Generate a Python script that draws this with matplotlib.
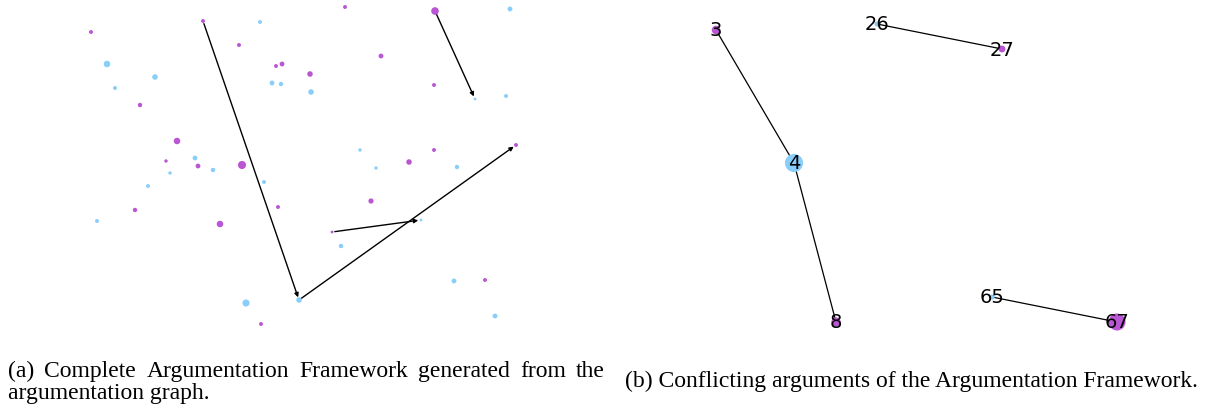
import numpy as np
import matplotlib
matplotlib.use('Agg')
import matplotlib.pyplot as plt

W, H = 1211, 410
BLUE = '#87cefa'
PURPLE = '#ba55d3'

# panel (a): complete framework, node positions (x, y) in picture units
a_x = [91, 203, 260, 239, 107, 155, 276, 282, 272, 281, 115, 140, 177, 195, 166, 198, 170, 213, 242,
       345, 435, 510, 381, 310, 311, 434, 475, 506, 516, 360, 434, 409, 376, 457,
       148, 264, 278, 135, 97, 220, 246, 299, 261,
       371, 332, 421, 341, 454, 485, 495]
a_y = [33, 22, 23, 46, 65, 78, 67, 65, 84, 85, 89, 106, 142, 159, 162, 167, 174, 171, 166,
       8, 12, 10, 57, 75, 93, 86, 100, 97, 146, 151, 151, 163, 169, 168,
       187, 183, 208, 211, 222, 225, 304, 301, 325,
       202, 233, 221, 247, 282, 281, 317]
a_kind = ['p', 'p', 'b', 'p', 'b', 'b', 'p', 'p', 'b', 'b', 'b', 'p', 'p', 'b', 'p', 'p', 'b', 'b', 'p',
          'p', 'p', 'b', 'p', 'p', 'b', 'p', 'b', 'b', 'p', 'b', 'p', 'p', 'b', 'b',
          'b', 'b', 'p', 'p', 'b', 'p', 'b', 'b', 'p',
          'p', 'p', 'b', 'b', 'b', 'p', 'b']
a_size = [8, 8, 8, 8, 22, 16, 8, 12, 12, 10, 8, 10, 22, 12, 6, 12, 6, 10, 34,
          8, 30, 12, 12, 16, 16, 8, 4, 8, 8, 6, 8, 16, 6, 10,
          8, 8, 8, 10, 8, 22, 26, 16, 8,
          14, 4, 4, 10, 12, 8, 12]
# directed attacks (from index, to index)
a_edges = [(1, 41), (20, 26), (41, 28), (44, 45)]

# panel (b): conflicting arguments
b_label = ['3', '4', '8', '26', '27', '65', '67']
b_x = [716, 794, 836, 877, 1002, 992, 1117]
b_y = [31, 164, 323, 25, 50, 298, 323]
b_kind = ['p', 'b', 'p', 'b', 'p', 'b', 'p']
b_size = [38, 170, 45, 14, 24, 14, 150]
b_edges = [('3', '4'), ('4', '8'), ('26', '27'), ('65', '67')]

cap_a1 = '(a) Complete Argumentation Framework generated from the'
cap_a2 = 'argumentation graph.'
cap_b = '(b) Conflicting arguments of the Argumentation Framework.'

fig = plt.figure(figsize=(W / 100, H / 100), dpi=100)
top = 340
ax1 = fig.add_axes([0, (H - top) / H, 605 / W, top / H])
ax2 = fig.add_axes([605 / W, (H - top) / H, (W - 605) / W, top / H])
ax1.set_xlim(0, 605)
ax2.set_xlim(605, W)
for ax in (ax1, ax2):
    ax.set_ylim(top, 0)
    ax.axis('off')

col = lambda k: BLUE if k == 'b' else PURPLE

for s, t in a_edges:
    ax1.annotate('', xy=(a_x[t], a_y[t]), xytext=(a_x[s], a_y[s]),
                 arrowprops=dict(arrowstyle='-|>', color='black', lw=1.0,
                                 mutation_scale=6, shrinkA=2, shrinkB=2))
ax1.scatter(a_x, a_y, s=a_size, c=[col(k) for k in a_kind], linewidths=0, zorder=3)

pos = {l: (x, y) for l, x, y in zip(b_label, b_x, b_y)}
for s, t in b_edges:
    ax2.plot([pos[s][0], pos[t][0]], [pos[s][1], pos[t][1]], color='black', lw=0.9, zorder=1)
ax2.scatter(b_x, b_y, s=b_size, c=[col(k) for k in b_kind], linewidths=0, zorder=2)
for l, x, y in zip(b_label, b_x, b_y):
    ax2.text(x, y, l, ha='center', va='center', fontsize=14, family='DejaVu Sans', zorder=3)

cap = dict(family='Liberation Serif', fontsize=17, va='baseline', ha='left')

# justified first line of caption (a)
r = fig.canvas.get_renderer()
words = cap_a1.split()
ws = []
for w in words:
    t = fig.text(0, 0, w, **cap)
    ws.append(t.get_window_extent(r).width)
    t.remove()
x0, x1 = 8, 605
gap = (x1 - x0 - sum(ws)) / (len(words) - 1)
x = x0
for w, wd in zip(words, ws):
    fig.text(x / W, 1 - 377 / H, w, **cap)
    x += wd + gap
fig.text(8 / W, 1 - 399 / H, cap_a2, **cap)
fig.text(625 / W, 1 - 387 / H, cap_b, **cap)

fig.savefig('out.png', dpi=100)
